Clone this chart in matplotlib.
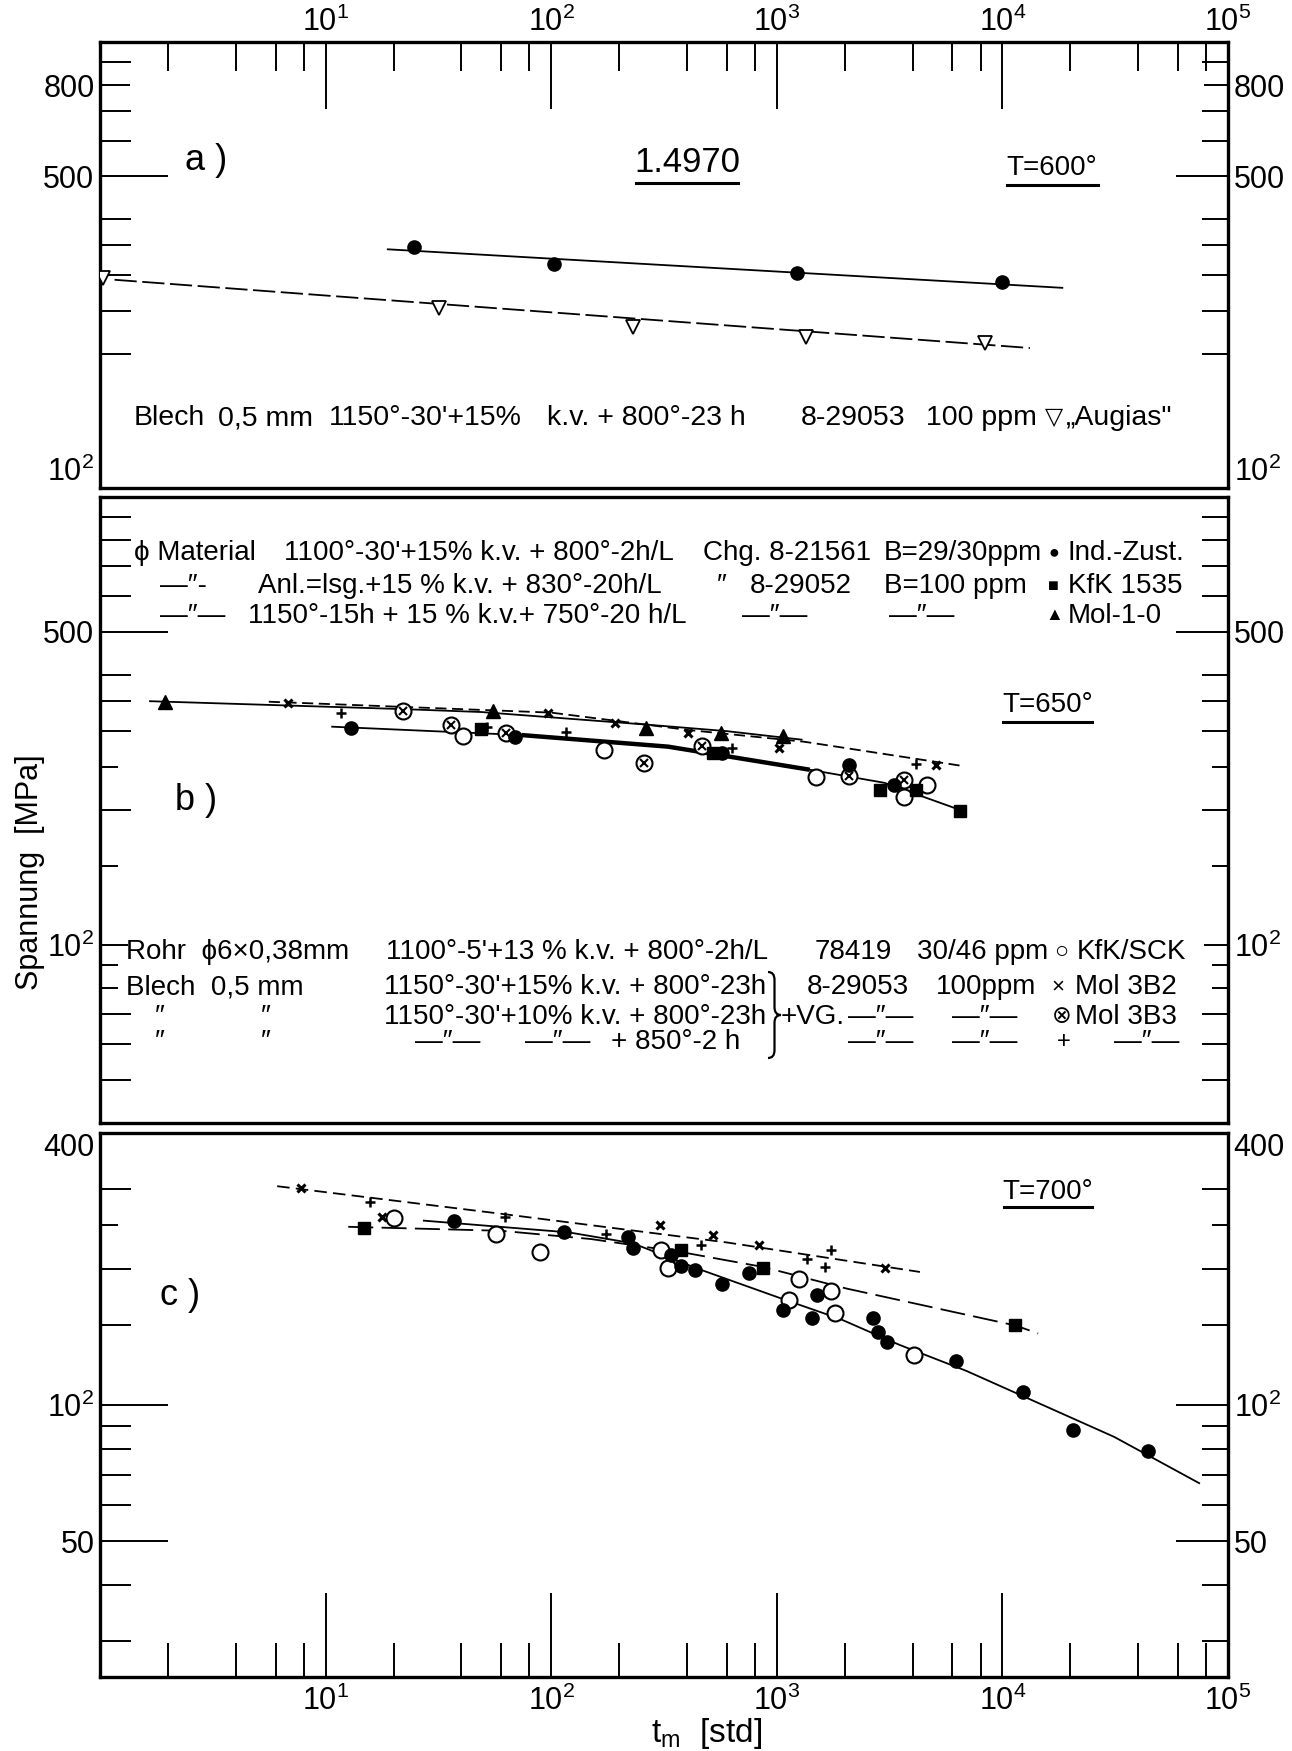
import matplotlib
matplotlib.use('Agg')
import matplotlib.pyplot as plt
from matplotlib.lines import Line2D
from matplotlib.path import Path
from matplotlib.patches import PathPatch
from matplotlib.ticker import FixedLocator, FixedFormatter, NullFormatter

plt.rcParams['font.family'] = ['Liberation Sans', 'DejaVu Sans']
plt.rcParams['mathtext.default'] = 'regular'
plt.rcParams['lines.scale_dashes'] = False

W, H = 1292, 1751

# ---------------- Daten (t_m in h, Spannung in MPa) ----------------
# a) T = 600 C
a_ind_t = [24.7, 103, 1228, 9980]
a_ind_s = [347, 318, 303, 290]
a_aug_t = [1.03, 31.8, 231, 1346, 8370]
a_aug_s = [296, 253, 230, 218, 211]
a_fit_ind_t = [18.7, 18600]
a_fit_ind_s = [343, 281]
a_fit_aug_t = [1.16, 13250]
a_fit_aug_s = [293, 206]

# b) T = 650 C
b_ind_t = [13, 69, 573, 2083, 3310]
b_ind_s = [305, 291, 268, 252, 228]
b_kfk_t = [48.7, 520, 2880, 4130, 6470]
b_kfk_s = [303, 268, 222, 222, 199]
b_mol10_t = [1.95, 55, 262, 567, 1064]
b_mol10_s = [349, 332, 305, 297, 293]
b_sck_t = [40.8, 172, 1496, 3673, 4645]
b_sck_s = [293, 272, 237, 214, 228]
b_3b2_t = [6.8, 97, 192, 403, 1018, 5080]
b_3b2_s = [346, 329, 313, 297, 275, 252]
b_3b3_t = [22, 36, 63, 257, 466, 2083, 3673]
b_3b3_s = [333, 310, 297, 255, 278, 238, 233]
b_vg_t = [11.7, 52, 116, 632, 4160]
b_vg_s = [329, 307, 298, 275, 254]
b_fit1_t = [1.65, 22, 49, 270, 600, 1300]
b_fit1_s = [350, 336, 331, 310, 300, 287]
b_fit2_t = [5.6, 100, 400, 1330, 6600]
b_fit2_s = [349, 330, 302, 284, 251]
b_fit3_t = [10.6, 74, 330, 1400, 3000, 6500]
b_fit3_s = [307, 294, 277, 246, 230, 200]

# c) T = 700 C
c_ind_t = [36.9, 114, 218, 230, 341, 377, 435, 571, 751, 1065, 1426, 1507,
           2680, 2820, 3070, 6210, 12400, 20600, 44400]
c_ind_s = [256, 241, 235, 223, 215, 203, 199, 185, 196, 162, 156, 175,
           156, 145, 138, 125, 107, 88, 79]
c_kfk_t = [14.8, 377, 873, 11400]
c_kfk_s = [247, 220, 201, 150]
c_sck_t = [20, 56.7, 89.5, 308, 331, 1133, 1250, 1731, 1820, 4070]
c_sck_s = [260, 239, 218, 220, 201, 171, 190, 179, 160, 129]
c_3b2_t = [7.8, 17.8, 303, 524, 832, 3020]
c_3b2_s = [302, 261, 250, 238, 226, 201]
c_vg_t = [15.7, 62.6, 175, 459, 1362, 1643, 1743]
c_vg_s = [282, 261, 239, 226, 210, 202, 220]
c_fitx_t = [6.1, 60, 600, 4310]
c_fitx_s = [305, 265, 229, 197]
c_fitq_t = [12.6, 60, 150, 377, 873, 2040, 11400, 14400]
c_fitq_s = [248, 243, 233, 218, 202, 181, 150, 144]
c_fiti_t = [27, 120, 230, 450, 1050, 1910, 3480, 6920, 31300, 75100]
c_fiti_s = [256, 241, 228, 200, 172, 155, 136, 119, 85, 67]

x_major = [10, 100, 1e3, 1e4, 1e5]
x_major_lbl = ['$10^{1}$', '$10^{2}$', '$10^{3}$', '$10^{4}$', '$10^{5}$']
x_minor = [2, 4, 6, 8, 20, 40, 60, 80, 200, 400, 600, 800,
           2000, 4000, 6000, 8000, 20000, 40000, 60000, 80000]

a_ymaj, a_ylbl = [100, 500, 800], ['$10^{2}$', '500', '800']
a_ymin = [200, 250, 300, 350, 400, 600, 700, 900]
b_ymaj, b_ylbl = [100, 500], ['$10^{2}$', '500']
b_ymin = [50, 60, 70, 80, 90, 150, 200, 250, 300, 350, 400, 600, 700, 800, 900]
c_ymaj, c_ylbl = [50, 100, 400], ['50', '$10^{2}$', '400']
c_ymin = [30, 40, 60, 70, 80, 90, 150, 200, 250, 300]

# ---------------- Figur ----------------
fig = plt.figure(figsize=(W / 100, H / 100), dpi=100)


def add_panel(top, bottom, left=100, right=1228):
    return fig.add_axes([left / W, 1 - bottom / H, (right - left) / W, (bottom - top) / H])


def ftext(x, y, s, size=20, ha='left', **kw):
    return fig.text(x / W, 1 - y / H, s, fontsize=size, ha=ha, va='center', **kw)


def underline(x0, x1, y):
    fig.add_artist(Line2D([x0 / W, x1 / W], [1 - y / H] * 2, transform=fig.transFigure,
                          color='k', lw=2.2))


def brace(x0, ytop, ybot, w):
    # geschweifte Klammer "}" als duenner Pfad
    ym = (ytop + ybot) / 2
    xm = x0 + w / 2
    r = w * 0.6
    v = [(x0, ytop), (xm, ytop), (xm, ytop + r), (xm, ym - r), (xm, ym), (x0 + w, ym),
         (xm, ym), (xm, ym + r), (xm, ybot - r), (xm, ybot), (x0, ybot)]
    c = [Path.MOVETO, Path.CURVE3, Path.CURVE3, Path.LINETO, Path.CURVE3, Path.CURVE3,
         Path.CURVE3, Path.CURVE3, Path.LINETO, Path.CURVE3, Path.CURVE3]
    v = [(x / W, 1 - y / H) for x, y in v]
    fig.add_artist(PathPatch(Path(v, c), fill=False, lw=1.6, transform=fig.transFigure))


P = 0.72  # px -> pt


def setup_y(ax, lim, maj, lbl, mnr, long_vals, short_vals):
    ax.set_yscale('log')
    ax.set_ylim(*lim)
    ax.yaxis.set_major_locator(FixedLocator(maj))
    ax.yaxis.set_major_formatter(FixedFormatter(lbl))
    ax.yaxis.set_minor_locator(FixedLocator(mnr))
    ax.yaxis.set_minor_formatter(NullFormatter())
    ax.tick_params(axis='y', which='both', direction='in', left=True, right=True,
                   labelleft=True, labelright=True, labelsize=22, width=1.4, pad=4)
    for tk, v in zip(ax.yaxis.get_major_ticks(len(maj)), maj):
        L1, L2 = (68, 52) if v in long_vals else (30, 24)
        tk.tick1line.set_markersize(L1 * P)
        tk.tick2line.set_markersize(L2 * P)
    for tk, v in zip(ax.yaxis.get_minor_ticks(len(mnr)), mnr):
        L1, L2 = (18, 16) if v in short_vals else (31, 26)
        tk.tick1line.set_markersize(L1 * P)
        tk.tick2line.set_markersize(L2 * P)


def setup_x(ax, where, Lmaj, Lmin):
    ax.set_xscale('log')
    ax.set_xlim(1, 1e5)
    ax.xaxis.set_major_locator(FixedLocator(x_major))
    ax.xaxis.set_major_formatter(FixedFormatter(x_major_lbl))
    ax.xaxis.set_minor_locator(FixedLocator(x_minor))
    ax.xaxis.set_minor_formatter(NullFormatter())
    if where is None:
        ax.tick_params(axis='x', which='both', bottom=False, top=False,
                       labelbottom=False, labeltop=False)
        return
    top = where == 'top'
    ax.tick_params(axis='x', which='both', direction='in', top=top, bottom=not top,
                   labeltop=top, labelbottom=not top, labelsize=22, width=1.4,
                   pad=3 if top else 6)
    ax.tick_params(axis='x', which='major', length=Lmaj * P)
    ax.tick_params(axis='x', which='minor', length=Lmin * P)


ax_a = add_panel(42, 488)
ax_b = add_panel(497, 1123)
ax_c = add_panel(1133, 1677)

for ax in (ax_a, ax_b, ax_c):
    for sp in ax.spines.values():
        sp.set_linewidth(2.4)

setup_x(ax_a, 'top', 67, 29)
setup_x(ax_b, None, 0, 0)
setup_x(ax_c, 'bottom', 84, 34)

setup_y(ax_a, (100, 1000), a_ymaj, a_ylbl, a_ymin, [500], [])
setup_y(ax_b, (40, 1000), b_ymaj, b_ylbl, b_ymin, [500], [250, 150, 90, 80])
setup_y(ax_c, (25, 400), c_ymaj, c_ylbl, c_ymin, [50, 100], [250])

# Randbeschriftungen an den Rahmenkanten verschieben
for tk in ax_a.yaxis.get_major_ticks(len(a_ymaj))[:1]:
    tk.label1.set_va('bottom')
    tk.label2.set_va('bottom')
    tk.tick1line.set_markersize(0)
    tk.tick2line.set_markersize(0)
for tk in ax_b.yaxis.get_major_ticks(len(b_ymaj))[:1]:
    tk.tick1line.set_markersize(28 * P)
    tk.tick2line.set_markersize(24 * P)
for tk in ax_c.yaxis.get_major_ticks(len(c_ymaj))[2:]:
    tk.label1.set_va('top')
    tk.label2.set_va('top')
    tk.tick1line.set_markersize(0)
    tk.tick2line.set_markersize(0)


def fit(ax, t, s, dashes=None, lw=1.3):
    ln, = ax.plot(t, s, color='k', lw=lw, zorder=2, solid_capstyle='butt')
    if dashes:
        ln.set_dashes(dashes)
    return ln


def pts(ax, t, s, kind):
    if kind == 'ind':
        ax.plot(t, s, 'o', ms=9.5, color='k', zorder=5, ls='none')
    elif kind == 'kfk':
        ax.plot(t, s, 's', ms=8.5, color='k', zorder=5, ls='none')
    elif kind == 'mol10':
        ax.plot(t, s, '^', ms=10.5, color='k', zorder=5, ls='none')
    elif kind == 'sck':
        ax.plot(t, s, 'o', ms=11.5, mfc='white', mec='k', mew=1.5, zorder=4, ls='none')
    elif kind == '3b2':
        ax.plot(t, s, 'x', ms=6, mew=2.2, color='k', zorder=5, ls='none')
    elif kind == '3b3':
        ax.plot(t, s, 'o', ms=11.5, mfc='white', mec='k', mew=1.5, zorder=4, ls='none')
        ax.plot(t, s, 'x', ms=6, mew=1.5, color='k', zorder=4.5, ls='none')
    elif kind == 'vg':
        ax.plot(t, s, '+', ms=7.5, mew=1.8, color='k', zorder=5, ls='none')
    elif kind == 'aug':
        ax.plot(t, s, 'v', ms=10.5, mfc='white', mec='k', mew=1.3, zorder=4, ls='none')


# a)
fit(ax_a, a_fit_ind_t, a_fit_ind_s)
fit(ax_a, a_fit_aug_t, a_fit_aug_s, dashes=(16, 4))
pts(ax_a, a_ind_t, a_ind_s, 'ind')
pts(ax_a, a_aug_t, a_aug_s, 'aug')

# b)
fit(ax_b, b_fit1_t, b_fit1_s)
fit(ax_b, b_fit2_t, b_fit2_s, dashes=(8, 4))
fit(ax_b, b_fit3_t, b_fit3_s)
fit(ax_b, b_fit3_t[1:4], b_fit3_s[1:4], lw=3.2)
pts(ax_b, b_sck_t, b_sck_s, 'sck')
pts(ax_b, b_3b3_t, b_3b3_s, '3b3')
pts(ax_b, b_ind_t, b_ind_s, 'ind')
pts(ax_b, b_kfk_t, b_kfk_s, 'kfk')
pts(ax_b, b_mol10_t, b_mol10_s, 'mol10')
pts(ax_b, b_3b2_t, b_3b2_s, '3b2')
pts(ax_b, b_vg_t, b_vg_s, 'vg')

# c)
fit(ax_c, c_fitx_t, c_fitx_s, dashes=(9, 4.5))
fit(ax_c, c_fitq_t, c_fitq_s, dashes=(18, 6))
fit(ax_c, c_fiti_t, c_fiti_s)
pts(ax_c, c_sck_t, c_sck_s, 'sck')
pts(ax_c, c_ind_t, c_ind_s, 'ind')
pts(ax_c, c_kfk_t, c_kfk_s, 'kfk')
pts(ax_c, c_3b2_t, c_3b2_s, '3b2')
pts(ax_c, c_vg_t, c_vg_s, 'vg')

# ---------------- Beschriftungen ----------------
ftext(206, 160, 'a )', size=26, ha='center')
ftext(196, 800, 'b )', size=26, ha='center')
ftext(180, 1295, 'c )', size=26, ha='center')

ftext(687, 162, '1.4970', size=25, ha='center')
underline(636, 738, 183)
ftext(1052, 168, 'T=600°', size=20, ha='center')
underline(1007, 1098, 185)
ftext(1048, 705, 'T=650°', size=20, ha='center')
underline(1003, 1092, 722)
ftext(1048, 1192, 'T=700°', size=20, ha='center')
underline(1004, 1092, 1207)

ftext(30, 872, 'Spannung  [MPa]', size=22, ha='center', rotation=90)
ftext(707, 1733, '$t_{m}$  [std]', size=24, ha='center')

DIT = '—″—'
rows = [
    (418, 20.5, [(134, 'Blech'), (218, '0,5 mm'), (329, "1150°-30'+15%"),
                 (547, 'k.v. + 800°-23 h'), (801, '8-29053'), (926, '100 ppm'),
                 (1066, '„Augias"')]),
    (553, 20, [(134, 'ϕ Material'), (284, "1100°-30'+15% k.v. + 800°-2h/L"),
               (703, 'Chg. 8-21561'), (884, 'B=29/30ppm'), (1068, 'Ind.-Zust.')]),
    (586, 20, [(160, '—″-'), (258, 'Anl.=lsg.+15 % k.v. + 830°-20h/L'), (717, '″'),
               (750, '8-29052'), (884, 'B=100 ppm'), (1068, 'KfK 1535')]),
    (616, 20, [(160, DIT), (248, '1150°-15h + 15 % k.v.+ 750°-20 h/L'), (742, DIT),
               (889, DIT), (1068, 'Mol-1-0')]),
    (952, 20, [(126, 'Rohr  ϕ6×0,38mm'), (386, "1100°-5'+13 % k.v. + 800°-2h/L"),
               (815, '78419'), (917, '30/46 ppm'), (1077, 'KfK/SCK')]),
    (987, 20, [(126, 'Blech  0,5 mm'), (384, "1150°-30'+15% k.v. + 800°-23h"),
               (807, '8-29053'), (936, '100ppm'), (1075, 'Mol 3B2')]),
    (1017, 20, [(155, '″'), (261, '″'), (384, "1150°-30'+10% k.v. + 800°-23h"),
                (781, '+VG.'), (848, DIT), (952, DIT), (1075, 'Mol 3B3')]),
    (1042, 20, [(155, '″'), (261, '″'), (415, DIT), (525, DIT), (611, '+ 850°-2 h'),
                (848, DIT), (952, DIT), (1114, DIT)]),
]
for y, fs, segs in rows:
    for x, s in segs:
        ftext(x, y, s, size=fs)

syms = [(1054, 418, '▽', 17), (1054, 553, '●', 13), (1053, 586, '■', 13), (1054, 616, '▲', 13),
        (1061, 952, '○', 17), (1058, 987, '×', 16), (1062, 1017, '⊗', 17), (1064, 1042, '+', 17)]
for x, y, s, fs in syms:
    ftext(x, y, s, size=fs, ha='center')

brace(768, 972, 1058, 13)

fig.savefig('out.png', dpi=100)
